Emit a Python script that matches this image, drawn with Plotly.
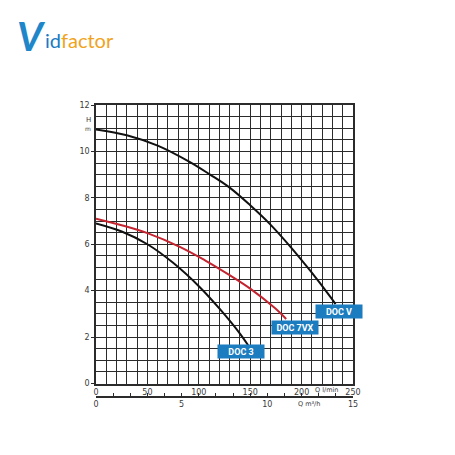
import plotly.graph_objects as go

# ---- data (Q in l/min, H in m) ----
docv_q = [0, 30, 60, 91, 111, 130, 150, 169, 189, 208, 228, 233]
docv_h = [10.95, 10.7, 10.25, 9.55, 9.0, 8.44, 7.68, 6.88, 5.9, 4.88, 3.73, 3.42]

doc7vx_q = [0, 25, 50, 82, 106, 130, 150, 174, 185]
doc7vx_h = [7.1, 6.82, 6.48, 5.88, 5.31, 4.67, 4.09, 3.25, 2.78]

doc3_q = [0, 25, 50, 75, 101, 121, 140, 148]
doc3_h = [6.9, 6.55, 6.0, 5.2, 4.15, 3.18, 2.15, 1.65]

x_ticks = [0, 50, 100, 150, 200, 250]
x_tick_text = ["0", "50", "100", "150", "200", "250"]
y_ticks = [0, 2, 4, 6, 8, 10, 12]
m3h_ticks = list(range(16))
m3h_labels = ["0", "", "", "", "", "5", "", "", "", "", "10", "", "", "", "", "15"]

series_names = ["DOC V", "DOC 7VX", "DOC 3"]

GRID = "#2b2b2b"
TXT = "#3a3a3a"
BLUE = "#1b7dbf"

# page offset (body margin) and plot-area geometry in figure pixels
OFF = 8
W = H = 455 - OFF
L, T, R, B = 88, 97, 102, 58
PW, PH = W - L - R, H - T - B


def px(X):
    return (X - OFF - L) / PW


def py(Y):
    return (H - B - (Y - OFF)) / PH


fig = go.Figure()
fig.add_trace(go.Scatter(x=docv_q, y=docv_h, mode="lines", line=dict(color="#111", width=2, shape="spline"),
                         showlegend=False, hoverinfo="skip"))
fig.add_trace(go.Scatter(x=doc7vx_q, y=doc7vx_h, mode="lines", line=dict(color="#c3242f", width=2, shape="spline"),
                         showlegend=False, hoverinfo="skip"))
fig.add_trace(go.Scatter(x=doc3_q, y=doc3_h, mode="lines", line=dict(color="#111", width=2, shape="spline"),
                         showlegend=False, hoverinfo="skip"))
fig.add_trace(go.Scatter(x=[0, 15], y=[None, None], xaxis="x2", yaxis="y", mode="lines",
                         showlegend=False, hoverinfo="skip"))

tickfont = dict(family="DejaVu Sans", size=8, color=TXT)

fig.update_layout(
    width=W, height=H,
    margin=dict(l=L, r=R, t=T, b=B, autoexpand=False),
    paper_bgcolor="white", plot_bgcolor="white",
    xaxis=dict(range=[0, 250], tickvals=x_ticks, ticktext=x_tick_text,
               showgrid=True, gridcolor=GRID, gridwidth=1,
               minor=dict(dtick=10, showgrid=True, gridcolor=GRID, gridwidth=1),
               showline=True, linecolor=GRID, linewidth=1.5, mirror=True,
               ticks="", tickfont=tickfont, zeroline=False, fixedrange=True),
    yaxis=dict(range=[0, 12], tickvals=y_ticks, domain=[py(383.5), 1],
               showgrid=True, gridcolor=GRID, gridwidth=1,
               minor=dict(dtick=0.5, showgrid=True, gridcolor=GRID, gridwidth=1),
               showline=True, linecolor=GRID, linewidth=1.5, mirror=True,
               ticks="outside", ticklen=3, tickcolor=GRID, tickfont=tickfont, zeroline=False, fixedrange=True),
    xaxis2=dict(range=[0, 15], overlaying="x", anchor="free", position=0, side="bottom",
                tickvals=m3h_ticks, ticktext=m3h_labels, showgrid=False, zeroline=False,
                showline=True, linecolor=GRID, linewidth=1.5, ticks="inside", ticklen=3, tickcolor=GRID,
                tickfont=tickfont, fixedrange=True),
)

small = dict(family="DejaVu Sans", size=7, color=TXT)


def note(X, Y, text, font):
    fig.add_annotation(x=px(X), y=py(Y), xref="paper", yref="paper", xanchor="center", yanchor="middle",
                       text=text, showarrow=False, font=font)


# axis titles
note(326, 390, "Q l/min", dict(family="DejaVu Sans", size=6.5, color=TXT))
note(309, 404, "Q m³/h", dict(family="DejaVu Sans", size=6.5, color=TXT))
note(88, 120, "H", small)
note(88, 128, "m", dict(family="DejaVu Sans", size=6, color=TXT))

# series labels
label_pos = [(236, 3.12), (193.6, 2.43), (141.5, 1.38)]
for name, (lx, ly) in zip(series_names, label_pos):
    fig.add_annotation(x=lx, y=ly, xref="x", yref="y", text="<b>" + name + "</b>", showarrow=False,
                       bgcolor=BLUE, width=44, height=11, borderpad=1,
                       font=dict(family="Roboto", size=9, color="white"))

# logo
fig.add_annotation(x=px(15), y=py(36), xref="paper", yref="paper", xanchor="left", yanchor="middle",
                   showarrow=False, text="<b><i>V</i></b>",
                   font=dict(family="Lato", size=40, color="#1f86c9"))
fig.add_annotation(x=px(43), y=py(40), xref="paper", yref="paper", xanchor="left", yanchor="middle",
                   showarrow=False,
                   text="<span style='color:#1a7bc3'>id</span><span style='color:#f0a31c'>factor</span>",
                   font=dict(family="Lato", size=20))

fig.write_html("out.html")
